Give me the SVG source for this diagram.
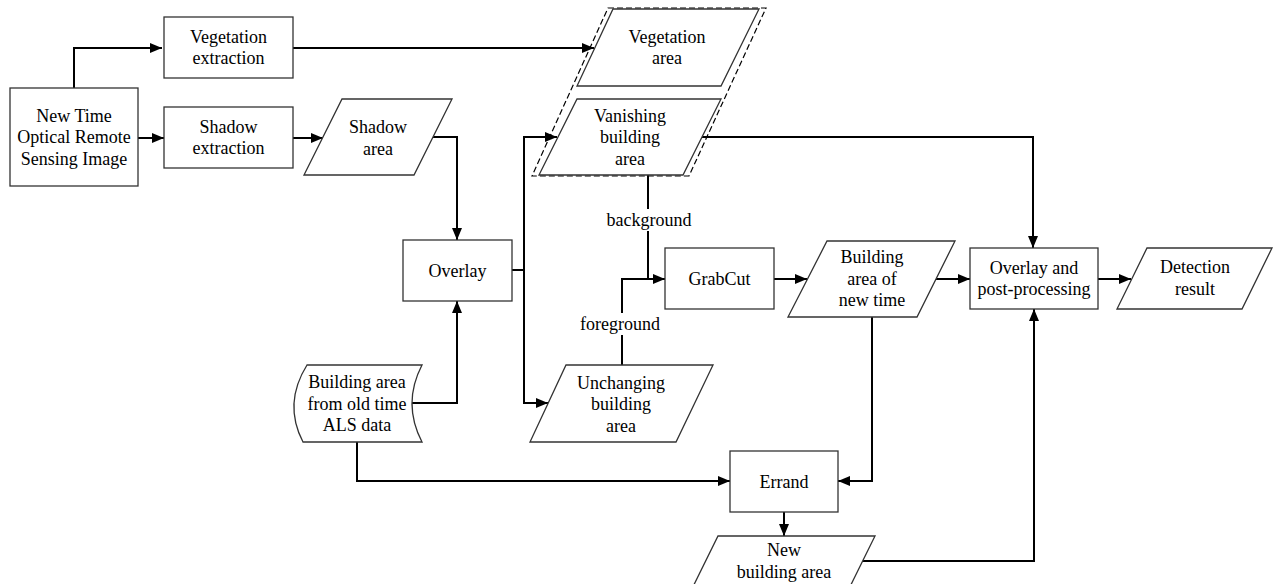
<svg xmlns="http://www.w3.org/2000/svg" width="1274" height="584" viewBox="0 0 1274 584">
<defs>
<style>
.box{fill:#fff;stroke:#333;stroke-width:1.3}
.dash{fill:none;stroke:#000;stroke-width:1.2;stroke-dasharray:6,3}
.con{fill:none;stroke:#000;stroke-width:2}
.t{font-family:'Liberation Serif','Times New Roman','DejaVu Serif',serif;font-size:18px;text-anchor:middle;fill:#000}
.lbg{fill:#fff;stroke:none}
</style>
<marker id="arr" viewBox="0 0 12 10" refX="12" refY="5" markerWidth="12" markerHeight="10" markerUnits="userSpaceOnUse" orient="auto">
<path d="M0,0 L12,5 L0,10 z" fill="#000"/>
</marker>
</defs>
<rect width="1274" height="584" fill="#fff"/>

<g id="connectors">
<path class="con" d="M74,88 V48 H162" marker-end="url(#arr)"/>
<path class="con" d="M293,48 H594" marker-end="url(#arr)"/>
<path class="con" d="M138,138 H164" marker-end="url(#arr)"/>
<path class="con" d="M293,138 H323" marker-end="url(#arr)"/>
<path class="con" d="M433,137 H457 V240" marker-end="url(#arr)"/>
<path class="con" d="M412,403 H457 V301" marker-end="url(#arr)"/>
<path class="con" d="M512,270 H524"/>
<path class="con" d="M524,403 V137 H557" marker-end="url(#arr)"/>
<path class="con" d="M524,270 V403 H548" marker-end="url(#arr)"/>
<path class="con" d="M702,137 H1033 V248" marker-end="url(#arr)"/>
<path class="con" d="M648,175 V279"/>
<path class="con" d="M622,365 V279 H665" marker-end="url(#arr)"/>
<path class="con" d="M774,279 H807" marker-end="url(#arr)"/>
<path class="con" d="M936,279 H970" marker-end="url(#arr)"/>
<path class="con" d="M1098,279 H1131" marker-end="url(#arr)"/>
<path class="con" d="M357,442 V481 H730" marker-end="url(#arr)"/>
<path class="con" d="M872,317 V481 H838" marker-end="url(#arr)"/>
<path class="con" d="M784,512 V536" marker-end="url(#arr)"/>
<path class="con" d="M862,561 H1034 V309" marker-end="url(#arr)"/>
<g id="label-background">
<rect class="lbg" x="605" y="209" width="88" height="22"/>
<text class="t" font-family="Liberation Serif, serif" x="649" y="226">background</text>
</g>
<g id="label-foreground">
<rect class="lbg" x="578" y="313" width="84" height="22"/>
<text class="t" font-family="Liberation Serif, serif" x="620" y="330">foreground</text>
</g>
</g>

<g class="t" font-family="Liberation Serif, serif">
<g id="new-time-image">
<rect class="box" x="10" y="88" width="128" height="98"/>
<text x="74" y="121.5">New Time</text>
<text x="74" y="143">Optical Remote</text>
<text x="74" y="164.5">Sensing Image</text>
</g>

<g id="vegetation-extraction">
<rect class="box" x="164" y="17" width="129" height="61"/>
<text x="228.5" y="42.75">Vegetation</text>
<text x="228.5" y="64.25">extraction</text>
</g>

<g id="shadow-extraction">
<rect class="box" x="164" y="107" width="129" height="61"/>
<text x="228.5" y="132.75">Shadow</text>
<text x="228.5" y="154.25">extraction</text>
</g>

<g id="shadow-area">
<polygon class="box" points="342,99 452,99 414,175 304,175"/>
<text x="378" y="133.25">Shadow</text>
<text x="378" y="154.75">area</text>
</g>

<g id="overlay">
<rect class="box" x="403" y="240" width="109" height="61"/>
<text x="457.5" y="276.5">Overlay</text>
</g>

<g id="vegetation-vanishing-group">
<polygon class="dash" points="608,8 766,8 689,176 532,176"/>
</g>

<g id="vegetation-area">
<polygon class="box" points="613,9 759,9 721,86 577,86"/>
<text x="667" y="42.75">Vegetation</text>
<text x="667" y="64.25">area</text>
</g>

<g id="vanishing-building-area">
<polygon class="box" points="577,99 721,99 683,175 539,175"/>
<text x="630" y="121.5">Vanishing</text>
<text x="630" y="143">building</text>
<text x="630" y="164.5">area</text>
</g>

<g id="unchanging-building-area">
<polygon class="box" points="566,365 713,365 676,442 530,442"/>
<text x="621" y="388.5">Unchanging</text>
<text x="621" y="410">building</text>
<text x="621" y="431.5">area</text>
</g>

<g id="grabcut">
<rect class="box" x="665" y="248" width="109" height="61"/>
<text x="719.5" y="284.5">GrabCut</text>
</g>

<g id="building-area-new-time">
<polygon class="box" points="827,241 955,241 917,317 788,317"/>
<text x="872" y="263">Building</text>
<text x="872" y="284.5">area of</text>
<text x="872" y="306">new time</text>
</g>

<g id="overlay-post-processing">
<rect class="box" x="970" y="248" width="128" height="61"/>
<text x="1034" y="273.5">Overlay and</text>
<text x="1034" y="295">post-processing</text>
</g>

<g id="detection-result">
<polygon class="box" points="1147,248 1272,248 1242,309 1117,309"/>
<text x="1195" y="273.25">Detection</text>
<text x="1195" y="294.75">result</text>
</g>

<g id="old-als-data">
<path class="box" d="M307,365 L422,365 Q402,403.5 422,442 L303,442 Q283,403.5 307,365 Z"/>
<text x="357" y="388">Building area</text>
<text x="357" y="409.5">from old time</text>
<text x="357" y="431">ALS data</text>
</g>

<g id="errand">
<rect class="box" x="730" y="451" width="108" height="61"/>
<text x="784" y="487.5">Errand</text>
</g>

<g id="new-building-area">
<polygon class="box" points="718,536 875,536 837,613 680,613"/>
<text x="784" y="556">New</text>
<text x="784" y="578">building area</text>
</g>
</g>
</svg>
